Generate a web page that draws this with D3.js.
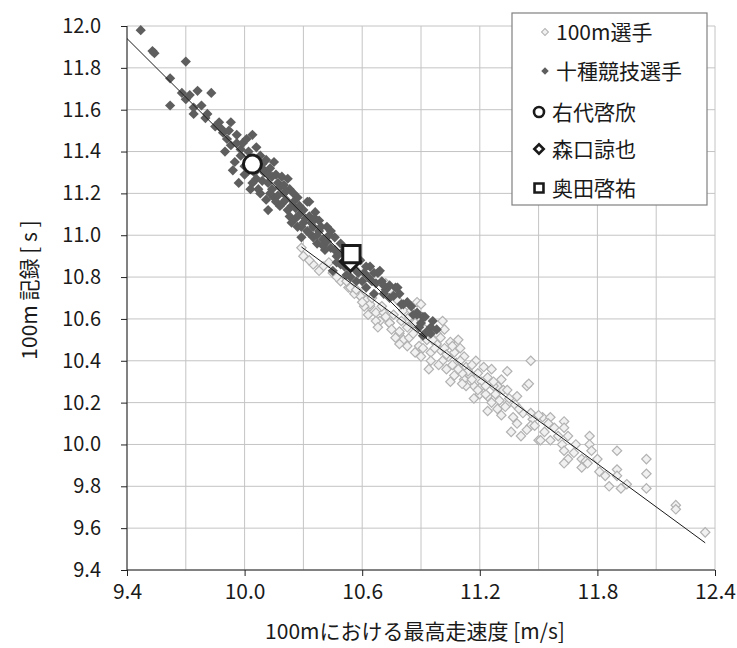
<!DOCTYPE html>
<html>
<head>
<meta charset="utf-8">
<script src="https://cdn.jsdelivr.net/npm/d3@7"></script>
<style>
  body { margin: 0; background: #fff; }
  text { font-family: "Noto Sans CJK JP", "Noto Sans", sans-serif; fill: #1a1a1a; }
</style>
</head>
<body>
<div id="chart"></div>
<script>
// 100m選手 (x: 最高走速度 m/s, y: 100m記録 s)
var sprinters = [
  [10.29,10.94],[10.40,10.85],[10.43,10.87],[10.49,10.88],[10.53,10.75],[10.49,10.78],[10.59,10.71],[10.64,10.66],
  [10.67,10.63],[10.72,10.77],[10.74,10.74],[10.78,10.69],[10.69,10.59],[10.74,10.58],[10.81,10.64],[10.84,10.61],
  [10.88,10.68],[10.90,10.67],[10.86,10.58],[10.79,10.53],[10.98,10.53],[11.01,10.59],[10.54,10.75],[10.62,10.69],
  [10.64,10.67],[10.67,10.59],[10.71,10.63],[10.74,10.58],[10.79,10.54],[10.81,10.50],[10.79,10.48],[10.85,10.64],
  [10.84,10.51],[10.89,10.47],[10.90,10.42],[10.95,10.44],[10.95,10.40],[10.98,10.48],[11.02,10.55],[11.05,10.49],
  [11.00,10.45],[11.01,10.40],[11.07,10.44],[11.09,10.50],[11.10,10.46],[11.12,10.42],[11.03,10.36],[11.07,10.33],
  [11.08,10.39],[11.13,10.37],[11.15,10.33],[11.12,10.31],[11.17,10.28],[11.18,10.40],[11.22,10.37],[11.24,10.32],
  [11.26,10.36],[11.20,10.24],[11.24,10.23],[11.29,10.28],[11.32,10.26],[11.34,10.35],[11.46,10.40],[11.44,10.28],
  [11.45,10.29],[11.30,10.21],[11.24,10.16],[11.35,10.20],[11.39,10.23],[11.42,10.15],[11.36,10.06],[11.41,10.04],
  [11.47,10.12],[11.50,10.02],[11.52,10.13],[11.46,10.09],[10.68,10.56],[10.77,10.51],[10.65,10.70],[10.59,10.71],
  [11.23,10.24],[11.29,10.17],[11.27,10.28],[11.34,10.26],[11.35,10.22],[11.38,10.19],[11.39,10.10],[11.46,10.15],
  [11.48,10.09],[11.50,10.14],[11.51,10.02],[11.56,10.13],[11.56,10.02],[11.58,10.08],[11.63,10.11],[11.63,10.08],
  [11.62,10.00],[11.63,9.97],[11.65,9.93],[11.63,9.91],[11.65,10.04],[11.69,10.00],[11.72,9.93],[11.72,9.89],
  [11.74,9.92],[11.76,10.04],[11.76,10.00],[11.77,9.97],[11.75,9.91],[11.90,9.97],[11.84,9.85],[11.86,9.80],
  [11.90,9.88],[11.90,9.85],[11.92,9.79],[11.95,9.81],[12.05,9.93],[12.05,9.86],[12.05,9.79],[12.20,9.71],
  [12.20,9.69],[12.35,9.58],[10.93,10.50],[10.97,10.46],[11.00,10.51],[11.04,10.42],[11.06,10.38],[11.10,10.40],
  [11.14,10.35],[11.16,10.38],[11.19,10.34],[11.11,10.34],[11.21,10.30],[11.27,10.30],[11.31,10.31],[11.28,10.24],
  [11.33,10.18],[11.20,10.27],[10.92,10.55],[10.86,10.53],[10.83,10.56],[10.96,10.50],[11.02,10.46],[11.06,10.47],
  [10.30,10.90],[10.35,10.86],[10.45,10.82],[10.56,10.72],[10.61,10.66],[10.70,10.66],[10.76,10.62],[10.87,10.58],
  [11.05,10.30],[11.13,10.28],[11.17,10.22],[10.33,10.88],[10.38,10.83],[10.47,10.80],[10.52,10.78],[10.57,10.74],
  [10.60,10.68],[10.63,10.62],[10.72,10.61],[10.75,10.55],[10.80,10.59],[10.83,10.47],[10.87,10.44],[10.91,10.46],
  [10.94,10.36],[10.99,10.38],[11.03,10.43],[11.09,10.36],[11.11,10.29],[11.16,10.31],[11.19,10.26],[11.23,10.28],
  [11.26,10.20],[11.31,10.14],[11.37,10.13],[11.40,10.17],[11.44,10.07],[11.53,10.06],[11.55,10.10],[11.60,10.04],
  [11.68,9.96],[11.80,9.93],[11.81,9.87]
];

// 十種競技選手
var decathletes = [
  [9.47,11.98],[9.53,11.88],[9.54,11.87],[9.70,11.83],[9.62,11.75],[9.62,11.62],[9.70,11.65],[9.72,11.67],
  [9.76,11.69],[9.74,11.61],[9.74,11.58],[9.83,11.68],[9.81,11.58],[9.87,11.54],[9.93,11.54],[9.88,11.51],
  [9.91,11.46],[9.96,11.48],[10.04,11.48],[9.93,11.43],[9.94,11.31],[9.98,11.41],[10.06,11.42],[10.00,11.29],
  [10.10,11.30],[10.15,11.35],[10.16,11.29],[10.22,11.27],[10.12,11.12],[10.19,11.15],[10.32,11.16],[10.08,11.20],
  [9.95,11.35],[10.11,11.36],[10.10,11.31],[10.06,11.27],[10.12,11.25],[10.18,11.23],[10.23,11.22],[10.15,11.18],
  [10.21,11.17],[10.27,11.18],[10.18,11.14],[10.33,11.16],[10.23,11.09],[10.28,11.10],[10.33,11.09],[10.24,11.06],
  [10.38,11.07],[10.35,11.04],[10.42,11.04],[10.29,10.99],[10.35,10.99],[10.32,11.02],[10.40,10.98],[10.46,10.99],
  [10.44,10.94],[10.47,10.90],[10.51,10.85],[10.59,10.88],[10.64,10.85],[10.69,10.83],[10.61,10.82],[10.54,10.80],
  [10.67,10.77],[10.62,10.75],[10.72,10.74],[10.78,10.75],[10.66,10.72],[10.76,10.71],[10.81,10.67],[10.88,10.63],
  [10.91,10.61],[10.95,10.56],[10.98,10.55],[10.95,10.53],[10.68,10.82],[10.77,10.75],[10.71,10.72],[10.74,10.70],
  [10.83,10.68],[10.80,10.67],[10.88,10.62],[10.92,10.61],[10.90,10.58],[10.93,10.54],[10.91,10.52],[10.52,10.81],
  [10.45,10.83],[9.98,11.38],[10.02,11.40],[10.03,11.36],[10.08,11.38],[10.00,11.33],[10.07,11.33],[10.13,11.32],
  [10.05,11.30],[10.14,11.28],[10.09,11.26],[10.17,11.25],[10.20,11.24],[10.14,11.22],[10.25,11.20],[10.20,11.20],
  [10.17,11.19],[10.24,11.14],[10.26,11.13],[10.30,11.12],[10.36,11.11],[10.30,11.06],[10.27,11.04],[10.34,11.06],
  [10.38,11.02],[10.43,11.00],[10.37,10.96],[10.41,10.93],[10.49,10.96],[10.50,10.92],[10.47,10.87],[10.56,10.84],
  [10.57,10.78],[10.63,10.80],[10.60,10.78],[10.70,10.78],[10.74,10.76],[10.65,10.78],[9.89,11.49],[9.85,11.52],
  [9.80,11.56],[9.99,11.44],[10.01,11.46],[9.97,11.25],[10.03,11.22],[10.11,11.17],[10.02,11.31],[10.04,11.25],
  [10.07,11.22],[10.09,11.34],[10.12,11.29],[10.13,11.20],[10.16,11.16],[10.19,11.28],[10.21,11.21],[10.22,11.12],
  [10.25,11.16],[10.26,11.08],[10.28,11.14],[10.29,11.04],[10.31,11.08],[10.33,11.01],[10.36,11.08],[10.37,11.00],
  [10.39,11.04],[10.40,10.95],[10.42,10.97],[10.44,11.02],[10.46,10.93],[10.48,10.91],[10.49,10.86],[10.53,10.87],
  [10.55,10.90],[10.58,10.82],[10.62,10.85],[10.66,10.82],[10.71,10.76],[10.79,10.72],[10.85,10.66],[10.86,10.62],
  [10.89,10.56],[10.96,10.59],[9.90,11.40],[9.96,11.44],[9.92,11.50],[9.78,11.62],[9.68,11.68]
];

// 近似直線の端点
var trendDecathletes = [[9.40,11.94],[10.93,10.51]];
var trendSprinters = [[10.29,10.944],[12.35,9.53]];

// 個人
var udai = [10.04, 11.34];
var moriguchi = [10.54, 10.875];
var okuda = [10.545, 10.91];

var legendLabels = ["100m選手", "十種競技選手", "右代啓欣", "森口諒也", "奥田啓祐"];
var xTicks = [9.4, 10.0, 10.6, 11.2, 11.8, 12.4];
var xGrid = [9.4, 9.7, 10.0, 10.3, 10.6, 10.9, 11.2, 11.5, 11.8, 12.1, 12.4];
var yTicks = [9.4, 9.6, 9.8, 10.0, 10.2, 10.4, 10.6, 10.8, 11.0, 11.2, 11.4, 11.6, 11.8, 12.0];

var margin = { top: 26, right: 22, bottom: 78, left: 127 };
var width = 737 - margin.left - margin.right,
    height = 648 - margin.top - margin.bottom;

var svg = d3.select("#chart")
  .append("svg")
  .attr("width", 737)
  .attr("height", 648)
  .append("g")
  .attr("transform", "translate(" + margin.left + "," + margin.top + ")");

var x = d3.scaleLinear().domain([9.4, 12.4]).range([0, width]);
var y = d3.scaleLinear().domain([9.4, 12.0]).range([height, 0]);

// grid
svg.selectAll(".vgrid")
  .data(xGrid)
  .enter()
  .append("line")
    .attr("x1", function(d) { return x(d); })
    .attr("x2", function(d) { return x(d); })
    .attr("y1", 0)
    .attr("y2", height)
    .attr("stroke", "#c4c4c4")
    .attr("stroke-width", 1);

svg.selectAll(".hgrid")
  .data(yTicks)
  .enter()
  .append("line")
    .attr("x1", 0)
    .attr("x2", width)
    .attr("y1", function(d) { return y(d); })
    .attr("y2", function(d) { return y(d); })
    .attr("stroke", "#c4c4c4")
    .attr("stroke-width", 1);

// axes
var xAxis = d3.axisBottom(x)
  .tickValues(xTicks)
  .tickSize(6)
  .tickFormat(d3.format(".1f"));

var yAxis = d3.axisLeft(y)
  .tickValues(yTicks)
  .tickSize(6)
  .tickFormat(d3.format(".1f"));

var gx = svg.append("g")
  .attr("transform", "translate(0," + height + ")")
  .call(xAxis);
gx.select(".domain").attr("d", "M0,0H" + width).attr("stroke", "#222");
gx.selectAll(".tick line").attr("stroke", "#222");
gx.selectAll("text")
  .attr("y", 14)
  .attr("dy", "0.71em")
  .style("font-size", "21px")
  .style("font-family", "'Noto Sans CJK JP', sans-serif")
  .attr("fill", "#1a1a1a");

var gy = svg.append("g").call(yAxis);
gy.select(".domain").attr("d", "M0," + height + "V0").attr("stroke", "#222");
gy.selectAll(".tick line").attr("stroke", "#222");
gy.selectAll("text")
  .attr("x", -26)
  .style("font-size", "20px")
  .style("font-family", "'Noto Sans CJK JP', sans-serif")
  .attr("fill", "#1a1a1a");

var diamond = d3.symbol().type(d3.symbolSquare);

// 100m選手
svg.selectAll(".sprinter")
  .data(sprinters)
  .enter()
  .append("path")
    .attr("d", diamond.size(44))
    .attr("transform", function(d) { return "translate(" + x(d[0]) + "," + y(d[1]) + ") rotate(45)"; })
    .attr("fill", "#f1f1f1")
    .attr("stroke", "#b2b2b2")
    .attr("stroke-width", 1.2);

// 十種競技選手
svg.selectAll(".decathlete")
  .data(decathletes)
  .enter()
  .append("path")
    .attr("d", diamond.size(52))
    .attr("transform", function(d) { return "translate(" + x(d[0]) + "," + y(d[1]) + ") rotate(45)"; })
    .attr("fill", "#5e5e5e");

// trend lines
var line = d3.line()
  .x(function(d) { return x(d[0]); })
  .y(function(d) { return y(d[1]); });

svg.append("path")
  .datum(trendDecathletes)
  .attr("d", line)
  .attr("fill", "none")
  .attr("stroke", "#1a1a1a")
  .attr("stroke-width", 1);

svg.append("path")
  .datum(trendSprinters)
  .attr("d", line)
  .attr("fill", "none")
  .attr("stroke", "#1a1a1a")
  .attr("stroke-width", 1);

// individuals
svg.append("circle")
  .attr("cx", x(udai[0]))
  .attr("cy", y(udai[1]))
  .attr("r", 9)
  .attr("fill", "#fff")
  .attr("stroke", "#1a1a1a")
  .attr("stroke-width", 3);

svg.append("path")
  .attr("d", diamond.size(200))
  .attr("transform", "translate(" + x(moriguchi[0]) + "," + y(moriguchi[1]) + ") rotate(45)")
  .attr("fill", "#fff")
  .attr("stroke", "#1a1a1a")
  .attr("stroke-width", 3);

svg.append("path")
  .attr("d", diamond.size(300))
  .attr("transform", "translate(" + x(okuda[0]) + "," + y(okuda[1]) + ")")
  .attr("fill", "#fff")
  .attr("stroke", "#1a1a1a")
  .attr("stroke-width", 3);

// axis titles
svg.append("text")
  .attr("x", width / 2 - 6)
  .attr("y", height + 69)
  .attr("text-anchor", "middle")
  .style("font-size", "21px")
  .text("100mにおける最高走速度 [m/s]");

svg.append("text")
  .attr("transform", "translate(" + (-90) + "," + (height / 2 - 8) + ") rotate(-90)")
  .attr("text-anchor", "middle")
  .style("font-size", "21px")
  .text("100m 記録 [ s ]");

// legend
var legend = d3.select("svg").append("g").attr("transform", "translate(512,13)");
legend.append("rect")
  .attr("width", 195)
  .attr("height", 192)
  .attr("fill", "#fff")
  .attr("stroke", "#808080")
  .attr("stroke-width", 1.2);

var rowY = [19, 58, 99, 136, 175];

legend.append("path")
  .attr("d", diamond.size(24))
  .attr("transform", "translate(33," + rowY[0] + ") rotate(45)")
  .attr("fill", "#f1f1f1")
  .attr("stroke", "#b2b2b2");
legend.append("path")
  .attr("d", diamond.size(28))
  .attr("transform", "translate(33," + rowY[1] + ") rotate(45)")
  .attr("fill", "#5e5e5e");
legend.append("circle")
  .attr("cx", 27).attr("cy", rowY[2]).attr("r", 5)
  .attr("fill", "#fff").attr("stroke", "#1a1a1a").attr("stroke-width", 2.6);
legend.append("path")
  .attr("d", diamond.size(44))
  .attr("transform", "translate(27," + rowY[3] + ") rotate(45)")
  .attr("fill", "#fff").attr("stroke", "#1a1a1a").attr("stroke-width", 2.6);
legend.append("path")
  .attr("d", diamond.size(80))
  .attr("transform", "translate(27," + rowY[4] + ")")
  .attr("fill", "#fff").attr("stroke", "#1a1a1a").attr("stroke-width", 2.6);

legend.selectAll(".ltext")
  .data(legendLabels)
  .enter()
  .append("text")
    .attr("x", function(d, i) { return i < 2 ? 44 : 40; })
    .attr("y", function(d, i) { return rowY[i]; })
    .attr("dy", "0.36em")
    .style("font-size", "21px")
    .text(function(d) { return d; });
</script>
</body>
</html>
